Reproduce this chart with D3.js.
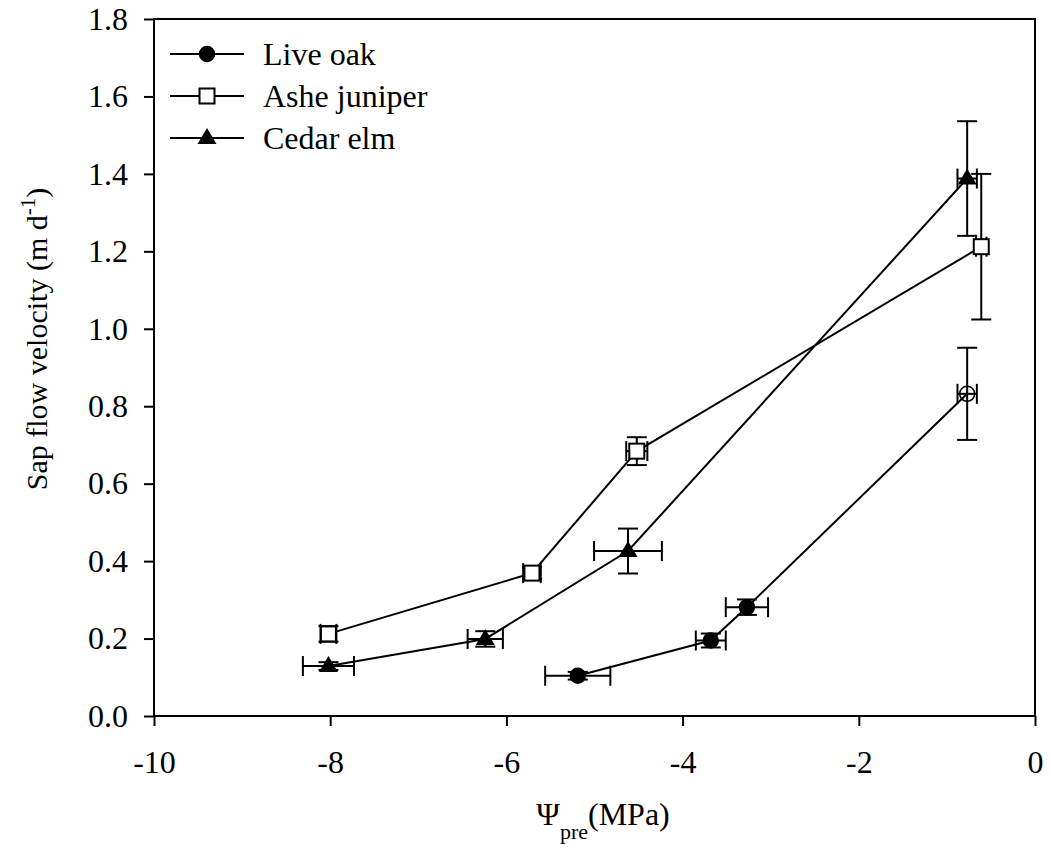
<!DOCTYPE html>
<html>
<head>
<meta charset="utf-8">
<script src="https://cdn.jsdelivr.net/npm/d3@7"></script>
<style>
  body { margin: 0; background: #fff; }
  text { font-family: "Liberation Serif", "Times New Roman", serif; fill: #000; }
</style>
</head>
<body>
<div id="chart"></div>
<script>
// Data
const seriesNames = ["Live oak", "Ashe juniper", "Cedar elm"];
const seriesSymbols = ["circle", "square", "triangle"];

const oakX = [-5.19, -3.68, -3.27, -0.77];
const oakY = [0.104, 0.195, 0.281, 0.832];
const oakXErr = [0.37, 0.17, 0.24, 0.11];
const oakYErr = [0.010, 0.018, 0.020, 0.119];
const oakHollow = [false, false, false, true];

const juniperX = [-8.02, -5.71, -4.52, -0.61];
const juniperY = [0.212, 0.369, 0.684, 1.212];
const juniperXErr = [0.09, 0.10, 0.12, 0.06];
const juniperYErr = [0.020, 0.015, 0.036, 0.188];

const elmX = [-8.02, -6.24, -4.62, -0.77];
const elmY = [0.129, 0.199, 0.426, 1.388];
const elmXErr = [0.29, 0.20, 0.385, 0.11];
const elmYErr = [0.010, 0.020, 0.058, 0.148];

const xTicks = [-10, -8, -6, -4, -2, 0];
const yTicks = [0, 0.2, 0.4, 0.6, 0.8, 1.0, 1.2, 1.4, 1.6, 1.8];

const W = 1051, H = 858;
const mleft = 154, mright = 1035, mtop = 19, mbottom = 716;

const svg = d3.select("#chart").append("svg")
    .attr("width", W)
    .attr("height", H);

let x = d3.scaleLinear().domain([-10, 0]).range([mleft, mright]);
let y = d3.scaleLinear().domain([0, 1.8]).range([mbottom, mtop]);

// frame
svg.append("rect")
    .attr("x", mleft).attr("y", mtop)
    .attr("width", mright - mleft).attr("height", mbottom - mtop)
    .attr("fill", "none").attr("stroke", "#000").attr("stroke-width", 2);

// axes
let xAxis = svg.append("g")
    .attr("transform", `translate(0, ${mbottom})`)
    .call(d3.axisBottom(x).tickValues(xTicks).tickSize(10).tickPadding(24).tickFormat(d3.format("d")));
let yAxis = svg.append("g")
    .attr("transform", `translate(${mleft}, 0)`)
    .call(d3.axisLeft(y).tickValues(yTicks).tickSize(10).tickPadding(16).tickFormat(d3.format(".1f")));

for (let ax of [xAxis, yAxis]) {
    ax.select(".domain").remove();
    ax.selectAll(".tick line").attr("stroke", "#000").attr("stroke-width", 2);
    ax.selectAll(".tick text")
        .style("font-family", "Liberation Serif")
        .style("font-size", "32px")
        .attr("fill", "#000");
}
xAxis.selectAll(".tick text").text(d => d < 0 ? "-" + Math.abs(d) : d);

// axis titles
let xt = svg.append("text")
    .attr("x", 603).attr("y", 825)
    .attr("text-anchor", "middle")
    .style("font-size", "32px");
xt.append("tspan").text("\u03A8");
xt.append("tspan").attr("dy", 14).style("font-size", "22px").text("pre");
xt.append("tspan").attr("dy", -14).text("(MPa)");

let yt = svg.append("text")
    .attr("transform", `translate(47, 339) rotate(-90)`)
    .attr("text-anchor", "middle")
    .style("font-size", "30px");
yt.append("tspan").text("Sap flow velocity (m d");
yt.append("tspan").attr("dy", -12).style("font-size", "21px").text("-1");
yt.append("tspan").attr("dy", 12).text(")");

function drawSymbol(g, sym, cx, cy, hollow) {
    if (sym == "circle") {
        g.append("circle")
            .attr("cx", cx).attr("cy", cy).attr("r", 7.5)
            .attr("fill", hollow ? "none" : "#000")
            .attr("stroke", "#000").attr("stroke-width", 1.5);
    } else if (sym == "square") {
        g.append("rect")
            .attr("x", cx - 7.5).attr("y", cy - 7.5)
            .attr("width", 15).attr("height", 15)
            .attr("fill", "#fff").attr("stroke", "#000").attr("stroke-width", 2);
    } else {
        g.append("path")
            .attr("d", `M${cx},${cy - 10}L${cx + 9.5},${cy + 6}L${cx - 9.5},${cy + 6}Z`)
            .attr("fill", "#000");
    }
}

const series = [
    { xs: oakX, ys: oakY, xe: oakXErr, ye: oakYErr, sym: "circle", hollow: oakHollow },
    { xs: juniperX, ys: juniperY, xe: juniperXErr, ye: juniperYErr, sym: "square", hollow: [] },
    { xs: elmX, ys: elmY, xe: elmXErr, ye: elmYErr, sym: "triangle", hollow: [] }
];

let line = d3.line().x(d => x(d[0])).y(d => y(d[1]));

for (let s of series) {
    let pts = s.xs.map((v, i) => [v, s.ys[i]]);
    let g = svg.append("g");
    g.append("path")
        .attr("d", line(pts))
        .attr("fill", "none").attr("stroke", "#000").attr("stroke-width", 2);

    // error bars
    let eb = g.append("g").attr("stroke", "#000").attr("stroke-width", 2);
    pts.forEach((p, i) => {
        let cx = x(p[0]), cy = y(p[1]);
        let y1 = y(p[1] + s.ye[i]), y2 = y(p[1] - s.ye[i]);
        let x1 = x(p[0] - s.xe[i]), x2 = x(p[0] + s.xe[i]);
        eb.append("line").attr("x1", cx).attr("x2", cx).attr("y1", y1).attr("y2", y2);
        eb.append("line").attr("x1", cx - 10).attr("x2", cx + 10).attr("y1", y1).attr("y2", y1);
        eb.append("line").attr("x1", cx - 10).attr("x2", cx + 10).attr("y1", y2).attr("y2", y2);
        eb.append("line").attr("x1", x1).attr("x2", x2).attr("y1", cy).attr("y2", cy);
        eb.append("line").attr("x1", x1).attr("x2", x1).attr("y1", cy - 10).attr("y2", cy + 10);
        eb.append("line").attr("x1", x2).attr("x2", x2).attr("y1", cy - 10).attr("y2", cy + 10);
    });

    pts.forEach((p, i) => drawSymbol(g, s.sym, x(p[0]), y(p[1]), s.hollow[i]));
}

// legend
let legend = svg.append("g");
seriesNames.forEach((name, i) => {
    let ly = 54 + i * 42;
    legend.append("line")
        .attr("x1", 170).attr("x2", 244).attr("y1", ly).attr("y2", ly)
        .attr("stroke", "#000").attr("stroke-width", 2);
    drawSymbol(legend, seriesSymbols[i], 207, ly, false);
    legend.append("text")
        .attr("x", 263).attr("y", ly + 11)
        .style("font-size", "32px")
        .text(name);
});
</script>
</body>
</html>
